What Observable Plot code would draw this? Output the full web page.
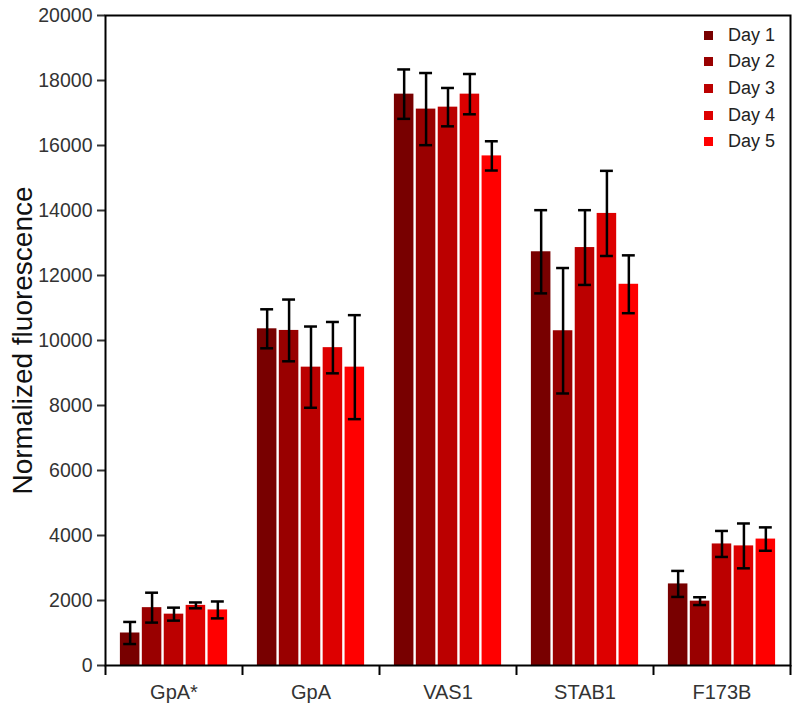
<!DOCTYPE html>
<html>
<head>
<meta charset="utf-8">
<script src="https://cdn.jsdelivr.net/npm/d3@7"></script>
<script src="https://cdn.jsdelivr.net/npm/@observablehq/plot@0.6"></script>
<style>
  body { margin: 0; background: #fff; }
  #wrap { position: relative; width: 800px; height: 709px; font-family: "Liberation Sans", Arial, sans-serif; }
  #legend { position: absolute; left: 704px; top: 22px; font-size: 18px; color: #222; }
  #legend .row { display: flex; align-items: center; height: 26.6px; }
  #legend .sw { width: 9px; height: 9px; margin-right: 15px; }
</style>
</head>
<body>
<div id="wrap"></div>
<script>
const categories = ["GpA*", "GpA", "VAS1", "STAB1", "F173B"];
const days = ["Day 1", "Day 2", "Day 3", "Day 4", "Day 5"];
const colors = ["#780000", "#990000", "#bb0000", "#dd0000", "#ff0000"];

// mean values, one array per day, ordered by category
const day1 = [1000, 10360, 17580, 12730, 2510];
const day2 = [1780, 10310, 17120, 10300, 1980];
const day3 = [1580, 9180, 17180, 12860, 3740];
const day4 = [1850, 9780, 17580, 13910, 3680];
const day5 = [1710, 9180, 15680, 11730, 3890];

// error half-widths, one array per day, ordered by category
const err1 = [340, 600, 760, 1280, 400];
const err2 = [460, 950, 1110, 1930, 120];
const err3 = [200, 1250, 590, 1150, 400];
const err4 = [90, 790, 620, 1310, 690];
const err5 = [260, 1600, 450, 890, 360];

const yTicks = [0, 2000, 4000, 6000, 8000, 10000, 12000, 14000, 16000, 18000, 20000];

const series = [day1, day2, day3, day4, day5];
const errors = [err1, err2, err3, err4, err5];

const outer = 0.1;
const step = (1 - 2 * outer) / days.length;

const data = categories.flatMap((c, ci) => days.map((d, di) => {
  const x1 = ci + outer + di * step;
  return {
    cat: c, day: d, x1, x2: x1 + step, xc: x1 + step / 2,
    value: series[di][ci], lo: series[di][ci] - errors[di][ci], hi: series[di][ci] + errors[di][ci]
  };
}));

const boundaries = d3.range(categories.length + 1);
const centers = categories.map((c, i) => i + 0.5);

const chart = Plot.plot({
  width: 800,
  height: 709,
  marginLeft: 105,
  marginRight: 10,
  marginTop: 15,
  marginBottom: 44,
  style: { fontFamily: "Liberation Sans, Arial, sans-serif", background: "white" },
  x: { domain: [0, categories.length], axis: null },
  y: { domain: [0, 20000], axis: null },
  color: { domain: days, range: colors },
  marks: [
    Plot.rectY(data, { x1: "x1", x2: "x2", y1: 0, y2: "value", fill: "day", insetLeft: 1.2, insetRight: 1.2 }),
    Plot.ruleX(data, { x: "xc", y1: "lo", y2: "hi", stroke: "black", strokeWidth: 2.5 }),
    Plot.ruleY(data, { x1: "x1", x2: "x2", y: "hi", stroke: "black", strokeWidth: 2.5, insetLeft: 4.5, insetRight: 4.5 }),
    Plot.ruleY(data, { x1: "x1", x2: "x2", y: "lo", stroke: "black", strokeWidth: 2.5, insetLeft: 4.5, insetRight: 4.5 }),
    Plot.axisY({ ticks: yTicks, tickSize: 8, tickPadding: 5, tickFormat: d => String(d), fontSize: 19.5, color: "#333", strokeWidth: 2, label: null }),
    Plot.axisX({ ticks: boundaries, tickSize: 10, tickFormat: () => "", strokeWidth: 2, label: null }),
    Plot.axisX({ ticks: centers, tickSize: 0, tickPadding: 19, tickFormat: i => categories[Math.floor(i)], fontSize: 20, color: "#333", label: null }),
    Plot.text(["Normalized fluorescence"], { frameAnchor: "left", textAnchor: "middle", rotate: -90, dx: -82, fontSize: 28, fill: "#111" }),
    Plot.frame({ stroke: "black", strokeWidth: 2 })
  ]
});

const wrap = document.getElementById("wrap");
wrap.appendChild(chart);

const legend = document.createElement("div");
legend.id = "legend";
days.forEach((d, i) => {
  const row = document.createElement("div");
  row.className = "row";
  const sw = document.createElement("span");
  sw.className = "sw";
  sw.style.background = colors[i];
  const t = document.createElement("span");
  t.textContent = d;
  row.appendChild(sw);
  row.appendChild(t);
  legend.appendChild(row);
});
wrap.appendChild(legend);
</script>
</body>
</html>
